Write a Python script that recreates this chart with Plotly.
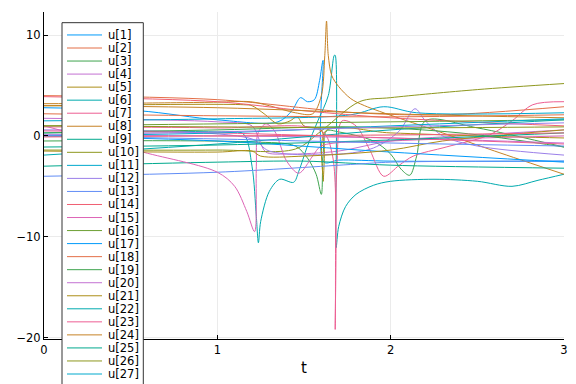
import plotly.graph_objects as go

# ---- data ----
names = [f"u[{i}]" for i in range(1, 31)]

t01 = [0, 0.55, 1.0, 1.35, 1.43, 1.48, 1.52, 1.56, 1.59, 1.61, 1.615, 1.7, 2.0, 3.0]
v01 = [2.8, 2.5, 1.6, 1.4, 2.5, 3.8, 3.4, 3.6, 5.5, 7.5, -2.6, -2.4, -2.5, -2.5]

t02 = [0, 1.0, 1.8, 2.3, 3.0]
v02 = [4.0, 3.6, 2.3, 2.1, 2.9]

t03 = [0, 1.2, 1.45, 1.52, 1.57, 1.6, 1.61, 1.63, 1.7, 1.9, 2.0, 2.06, 2.11, 2.15, 2.2, 2.5, 3.0]
v03 = [-0.5, -0.6, -1.0, -2.2, -3.8, -5.8, -2.0, 0.5, 0.4, -0.5, -1.8, -3.3, -3.9, -2.0, 1.5, 0.8, -1.1]

t04 = [0, 1.0, 1.2, 1.24, 1.28, 1.4, 1.7, 2.0, 2.5, 3.0]
v04 = [1.75, 1.4, 1.0, -0.3, -1.6, -1.8, -1.5, -0.5, 0.1, 0.6]

t05 = [0, 1.15, 1.2, 1.27, 1.35, 1.42, 1.46, 1.5, 1.6, 1.612, 1.625, 2.0, 2.5, 3.0]
v05 = [3.0, 3.1, 3.0, 2.2, 1.2, 1.5, 1.9, 1.0, 0.6, -4.5, 0.5, 0.3, 0.0, -0.2]

t06 = [0, 1.0, 1.15, 1.2, 1.225, 1.237, 1.25, 1.3, 1.36, 1.44, 1.47, 1.52, 1.58, 1.64, 1.675,
       1.68, 1.685, 1.7, 1.74, 1.8, 1.9, 2.0, 2.25, 2.5, 2.7, 2.85, 3.0]
v06 = [0.3, 0.4, 0.2, -3.0, -8.0, -10.6, -8.5, -5.5, -4.3, -4.6, -3.5, -1.0, 1.5, 4.0, 8.0,
       8.0, -11.1, -9.0, -7.0, -5.8, -4.9, -4.5, -4.3, -4.5, -5.0, -4.4, -3.8]

t07 = [0, 1.0, 1.6, 1.665, 1.68, 1.69, 1.72, 1.8, 1.88, 1.96, 2.05, 2.13, 2.32, 2.57, 2.7, 2.82, 3.0]
v07 = [0.9, 0.8, 0.5, -2.0, -19.2, -3.0, 1.5, 1.0, -1.4, -4.0, -2.9, -2.0, -1.1, 0.1, 1.5, 3.1, 3.4]

t08 = [0, 0.5, 1.0, 1.19, 1.3, 1.45, 1.55, 1.6, 1.62, 1.63, 1.64, 1.66, 1.7, 1.77, 1.85, 2.3, 2.6, 3.0]
v08 = [3.2, 3.25, 3.35, 3.4, 3.0, 2.3, 2.2, 4.0, 8.0, 11.4, 8.0, 6.0, 4.9, 3.7, 3.0, 0.3, -1.5, -3.8]

t09 = [0, 1.0, 1.5, 2.0, 3.0]
v09 = [-3.0, -2.6, -2.5, -2.9, -3.2]

t10 = [0, 1.0, 1.45, 1.6, 1.82, 2.0, 2.5, 3.0]
v10 = [-1.4, -1.4, -1.3, 0.5, 3.4, 3.8, 4.6, 5.2]

t11 = [0, 1.0, 1.77, 1.96, 2.15, 3.0]
v11 = [1.5, 1.7, 2.1, 2.9, 2.3, 2.3]

t12 = [0, 1.2, 1.3, 1.7, 1.9, 2.05, 2.14, 2.2, 2.3, 2.5, 3.0]
v12 = [0.6, -0.3, -1.5, -1.8, -1.2, 0.5, 2.7, 1.5, 0.0, -1.0, -1.9]

t13 = [0, 1.0, 1.8, 2.0, 3.0]
v13 = [-4.0, -3.6, -2.8, -2.6, -2.5]

t14 = [0, 1.0, 1.5, 2.0, 3.0]
v14 = [3.9, 3.4, 2.5, 1.8, 1.0]

t15 = [0, 0.57, 1.0, 1.1, 1.17, 1.215, 1.225, 1.235, 1.28, 1.33, 1.4, 1.47, 1.55, 1.6, 2.0, 3.0]
v15 = [1.0, -1.6, -3.6, -5.0, -7.5, -9.5, -3.0, 0.3, 1.2, 0.5, -2.5, -3.7, -2.0, -1.0, -0.5, 0.0]

t16 = [0, 1.0, 2.0, 3.0]
v16 = [1.0, 1.2, 1.4, 1.6]

t17 = [0, 1.0, 2.0, 3.0]
v17 = [0.0, -0.5, -1.6, -2.6]

t18 = [0, 1.0, 2.0, 3.0]
v18 = [2.2, 2.0, 1.9, 2.1]

t19 = [0, 1.0, 1.8, 2.4, 3.0]
v19 = [0.3, 0.6, 0.9, 0.3, -1.1]

t20 = [0, 1.0, 2.0, 3.0]
v20 = [0.1, 0.0, -0.2, -0.7]

t21 = [0, 1.0, 1.2, 1.25, 1.5, 2.0, 2.3, 3.0]
v21 = [-1.5, -1.6, -1.5, -2.0, -2.0, -1.4, -0.5, 0.6]

t22 = [0, 1.0, 2.0, 3.0]
v22 = [-1.9, -0.8, 0.6, 1.6]

t23 = [0, 1.0, 2.0, 3.0]
v23 = [0.5, 0.3, -0.2, -0.8]

t24 = [0, 1.0, 2.0, 3.0]
v24 = [3.0, 2.8, 2.2, 1.8]

t25 = [0, 1.0, 2.0, 3.0]
v25 = [-1.1, -0.9, -0.4, 0.3]

t26 = [0, 1.0, 2.0, 3.0]
v26 = [1.0, 0.9, 0.8, 0.9]

t27 = [0, 1.0, 2.0, 3.0]
v27 = [0.0, 0.3, 1.0, 1.7]

t28 = [0, 1.0, 2.0, 3.0]
v28 = [0.1, 0.4, 0.9, 1.3]

t29 = [0, 1.0, 2.0, 3.0]
v29 = [0.0, -0.3, -0.7, -1.0]

t30 = [0, 1.0, 2.0, 3.0]
v30 = [-0.1, 0.0, 0.1, 0.3]

ts = [t01, t02, t03, t04, t05, t06, t07, t08, t09, t10, t11, t12, t13, t14, t15,
      t16, t17, t18, t19, t20, t21, t22, t23, t24, t25, t26, t27, t28, t29, t30]
vs = [v01, v02, v03, v04, v05, v06, v07, v08, v09, v10, v11, v12, v13, v14, v15,
      v16, v17, v18, v19, v20, v21, v22, v23, v24, v25, v26, v27, v28, v29, v30]

xticks = [0, 1, 2, 3]
yticks = [-20, -10, 0, 10]

# ---- styling ----
palette = ["#009AFA", "#E36F47", "#3EA44E", "#C371D2", "#AC8E18", "#00AAAE", "#ED5E93", "#C68225",
           "#00A98D", "#8E971E", "#00A9CD", "#9B7FE9", "#618DF6", "#F06073", "#DD65B6", "#6C9F33"]

W, H = 576, 384
L, R, T, B = 44, 12, 12, 44.5
pw, ph = W - L - R, H - T - B

fig = go.Figure()
for i, (t, v) in enumerate(zip(ts, vs)):
    fig.add_trace(go.Scatter(
        x=t, y=v, mode="lines", name=names[i], showlegend=False,
        line=dict(color=palette[i % 16], width=1, shape="spline", smoothing=0.9),
    ))

def px2paper_x(px):
    return (px - L) / pw

def px2paper_y(py):
    return 1 - (py - T) / ph

shapes = []
annotations = []
# manual legend (Plots.jl style, tall and cut off at the bottom of the figure)
shapes.append(dict(type="rect", xref="paper", yref="paper",
                   x0=px2paper_x(62), x1=px2paper_x(143.3),
                   y0=px2paper_y(420), y1=px2paper_y(22.7),
                   fillcolor="white", line=dict(color="#333333", width=1), layer="above"))
for i, nm in enumerate(names):
    py = 35 + 13.06 * i
    if py > H + 8:
        continue
    shapes.append(dict(type="line", xref="paper", yref="paper",
                       x0=px2paper_x(67), x1=px2paper_x(102),
                       y0=px2paper_y(py), y1=px2paper_y(py),
                       line=dict(color=palette[i % 16], width=1), layer="above"))
    if py < H - 4:
        annotations.append(dict(xref="paper", yref="paper", x=px2paper_x(106), y=px2paper_y(py),
                                text=nm, showarrow=False, xanchor="left", yanchor="middle",
                                font=dict(family="DejaVu Sans", size=11.5, color="#000000")))

fig.update_layout(
    width=W, height=H,
    margin=dict(l=L, r=R, t=T, b=B, pad=0, autoexpand=False),
    paper_bgcolor="white", plot_bgcolor="white",
    font=dict(family="DejaVu Sans", size=11.5, color="#000000"),
    shapes=shapes, annotations=annotations,
    showlegend=False,
    hovermode=False,
    xaxis=dict(range=[0, 3], tickvals=xticks, ticks="inside", ticklen=4, tickcolor="black",
               showline=True, linecolor="black", linewidth=1, mirror=False, automargin=False,
               showgrid=True, gridcolor="#EBEBEB", gridwidth=1, zeroline=False,
               title=dict(text="t", font=dict(size=15), standoff=6)),
    yaxis=dict(range=[-20.15, 12.3], tickvals=yticks, ticks="inside", ticklen=4, tickcolor="black",
               showline=True, linecolor="black", linewidth=1, mirror=False, automargin=False,
               showgrid=True, gridcolor="#EBEBEB", gridwidth=1, zeroline=False),
)

# remove the browser's default 8px page margin so the figure sits at the window's corner
fig.write_html("out.html",
               config={"displayModeBar": False},
               post_script="document.body.style.margin='0';document.body.style.overflow='hidden';")
